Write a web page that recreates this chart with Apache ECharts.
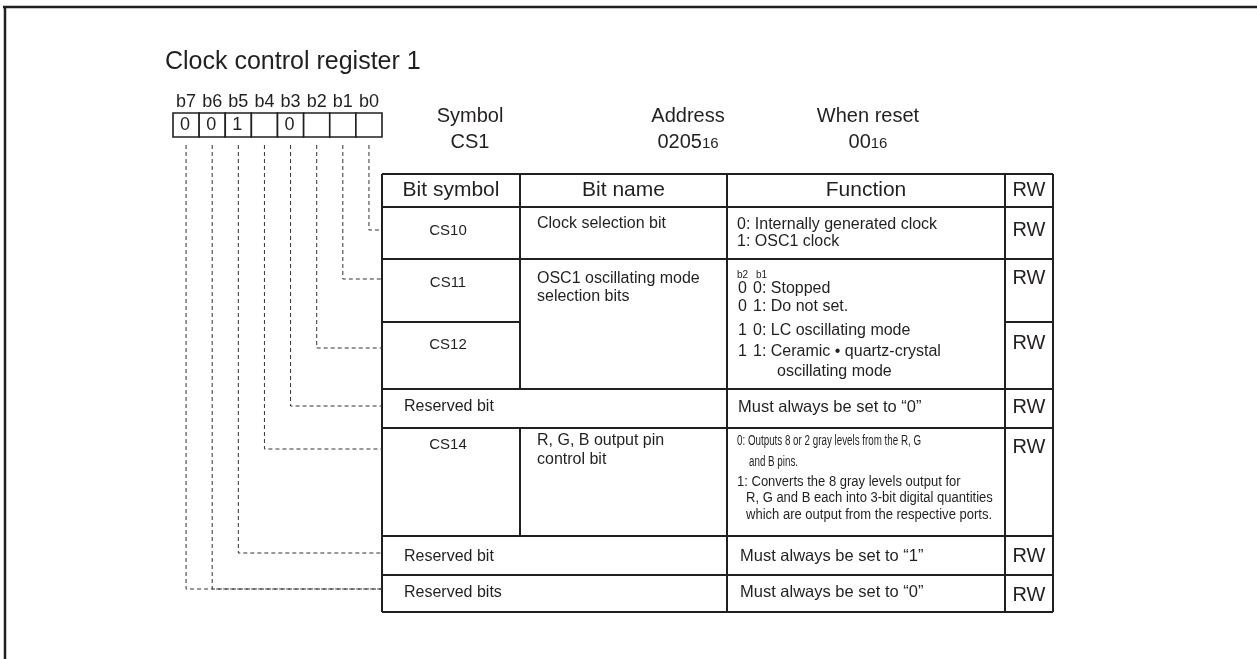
<!DOCTYPE html>
<html><head><meta charset="utf-8">
<script src="https://cdn.jsdelivr.net/npm/echarts@6/dist/echarts.min.js"></script>
<style>html,body{margin:0;padding:0;background:#fff}#c{width:1257px;height:659px}</style>
</head><body><div id="c"></div>
<script>
// ---------------- content ----------------
const titleText = 'Clock control register 1';
const bitLabels = ['b7','b6','b5','b4','b3','b2','b1','b0'];
const bitValues = ['0','0','1','','0','','',''];
const infoHeads = ['Symbol','Address','When reset'];
const infoMain = ['CS1','0205','00'];
const infoSub = ['','16','16'];
const headers = ['Bit symbol','Bit name','Function','RW'];
const rowSymbols = ['CS10','CS11','CS12','Reserved bit','CS14','Reserved bit','Reserved bits'];
const rowNames = [
  ['Clock selection bit'],
  ['OSC1 oscillating mode','selection bits'],
  null, null,
  ['R, G, B output pin','control bit'],
  null, null
];
const rowFunctions = [
  ['0: Internally generated clock','1: OSC1 clock'],
  ['0: Stopped','1: Do not set.','0: LC oscillating mode','1: Ceramic \u2022 quartz-crystal','oscillating mode'],
  null,
  ['Must always be set to \u201C0\u201D'],
  ['0: Outputs 8 or 2 gray levels from the R, G','and B pins.','1: Converts the 8 gray levels output for','R, G and B each into 3-bit digital quantities','which are output from the respective ports.'],
  ['Must always be set to \u201C1\u201D'],
  ['Must always be set to \u201C0\u201D']
];
const cs11BitHeads = ['b2','b1'];
const cs11BitCodes = ['0','0','1','1',''];
const rowRW = ['RW','RW','RW','RW','RW','RW','RW'];

// ---------------- layout (positions / sizes / styles) ----------------
const FONT = '"Liberation Sans", Arial, Helvetica, sans-serif';
const INK = '#231f20';
const L = {
  colX: [382, 520, 727, 1005, 1053],
  rowY: [174, 207, 259, 322, 389, 428, 536, 575, 612],
  symSpan: [1,1,1,2,1,2,2],
  nameSpanRows: [1,2,0,0,1,0,0],
  funcSpanRows: [1,2,0,1,1,1,1],
  symY: [231, 283, 345, 407, 445, 557, 593],
  rwY: [230, 278, 343, 407, 447, 556, 595],
  nameY: [[224],[279,297],null,null,[441,460],null,null],
  funcY: [[225,242],[289,307,331,352,372],null,[407],[441,462,482,498,515],[556],[592]],
  funcX: [[737,737],[753,753,753,753,777],null,[738],[737,749,737,746,746],[740],[740]],
  funcSize: [[16,16],[16,16,16,16,16],null,[16.5],[14,14,14,14,14],[16.5],[16.5]],
  funcScale: [[1,1],[1,1,1,1,1],null,[1],[0.7,0.7,0.93,0.93,0.93],[1],[1]],
  box: {x: 173, y: 113, w: 209/8, h: 24},
  bitLabelY: 102,
  dashTopY: 145,
  connectorY: [589, 589, 553, 449, 406, 348, 279, 230],
  infoX: [470, 688, 868],
  infoY: [116, 142]
};

const measureCtx = document.createElement('canvas').getContext('2d');
function textW(str, font) { measureCtx.font = font; return measureCtx.measureText(str).width; }

function T(api, x, y, s, size, align, sx) {
  const p = api.coord([x, y]);
  const font = size + 'px ' + FONT;
  const el = {type: 'text', x: p[0], y: p[1], silent: true,
    style: {text: s, font: font, fill: INK, align: align || 'left', textAlign: align || 'left',
      verticalAlign: 'middle', textVerticalAlign: 'middle'}};
  if (sx && sx !== 1) el.scaleX = sx;
  return el;
}
function LN(api, x1, y1, x2, y2, w) {
  const a = api.coord([x1, y1]), b = api.coord([x2, y2]);
  return {type: 'line', silent: true, shape: {x1: a[0], y1: a[1], x2: b[0], y2: b[1]},
    style: {stroke: INK, lineWidth: w || 1.6, fill: null}};
}

// frame, title, info block, header row
function renderHead(params, api) {
  const ch = [];
  ch.push(LN(api, 3, 7, 1257, 7, 2.5));
  ch.push(LN(api, 5, 6, 5, 659, 2.5));
  ch.push(T(api, 165, 62, titleText, 25, 'left'));
  infoHeads.forEach((h, i) => {
    ch.push(T(api, L.infoX[i], L.infoY[0], h, 20, 'center'));
    const mf = '20px ' + FONT, sf = '15px ' + FONT;
    const wm = textW(infoMain[i], mf), ws = infoSub[i] ? textW(infoSub[i], sf) : 0;
    const x0 = L.infoX[i] - (wm + ws) / 2;
    ch.push(T(api, x0, L.infoY[1], infoMain[i], 20, 'left'));
    if (infoSub[i]) ch.push(T(api, x0 + wm, L.infoY[1] + 2, infoSub[i], 15, 'left'));
  });
  const c = L.colX, y0 = L.rowY[0], y1 = L.rowY[1];
  ch.push(LN(api, c[0], y0, c[4], y0, 2));
  ch.push(LN(api, c[0], y1, c[4], y1, 2));
  headers.forEach((h, i) => {
    ch.push(T(api, (c[i] + c[i + 1]) / 2, (y0 + y1) / 2, h, i === 3 ? 20 : 21, 'center'));
  });
  for (let i = 0; i < 5; i++) ch.push(LN(api, c[i], y0, c[i], y1, 2));
  return {type: 'group', children: ch};
}

// bit boxes and dashed connectors
function renderBit(params, api) {
  const i = api.value(0);
  const b = L.box, ch = [];
  const x = b.x + i * b.w, cx = x + b.w / 2;
  const p = api.coord([x, b.y]);
  ch.push({type: 'rect', silent: true, shape: {x: p[0], y: p[1], width: b.w, height: b.h},
    style: {fill: '#fff', stroke: INK, lineWidth: 1.6}});
  ch.push(T(api, cx, L.bitLabelY, bitLabels[i], 18, 'center'));
  if (bitValues[i]) ch.push(T(api, cx - 1, b.y + b.h / 2 + 0.5, bitValues[i], 18, 'center'));
  const cy = L.connectorY[i];
  const pts = [api.coord([cx, L.dashTopY]), api.coord([cx, cy]), api.coord([L.colX[0], cy])];
  ch.push({type: 'polyline', silent: true, shape: {points: pts},
    style: {stroke: '#333', lineWidth: 1, lineDash: [4, 3], fill: null}});
  return {type: 'group', children: ch};
}

// table rows
function renderRow(params, api) {
  const r = api.value(0);
  const c = L.colX, ch = [];
  const yTop = L.rowY[r + 1], yBot = L.rowY[r + 2];
  const symEnd = L.symSpan[r] === 2 ? c[2] : c[1];
  ch.push(LN(api, c[0], yBot, symEnd, yBot, 2));
  ch.push(LN(api, c[3], yBot, c[4], yBot, 2));
  if (L.symSpan[r] === 1) {
    const nSpan = L.nameSpanRows[r];
    if (nSpan > 0) {
      const bot = L.rowY[r + 1 + nSpan];
      ch.push(LN(api, c[1], bot, c[2], bot, 2));
    }
  }
  const fSpan = L.funcSpanRows[r];
  if (fSpan > 0) {
    const bot = L.rowY[r + 1 + fSpan];
    ch.push(LN(api, c[2], bot, c[3], bot, 2));
  }
  ch.push(LN(api, c[0], yTop, c[0], yBot, 2));
  if (L.symSpan[r] === 1) ch.push(LN(api, c[1], yTop, c[1], yBot, 2));
  ch.push(LN(api, c[2], yTop, c[2], yBot, 2));
  ch.push(LN(api, c[3], yTop, c[3], yBot, 2));
  ch.push(LN(api, c[4], yTop, c[4], yBot, 2));
  if (L.symSpan[r] === 2) ch.push(T(api, c[0] + 22, L.symY[r], rowSymbols[r], 16, 'left'));
  else ch.push(T(api, (c[0] + c[1]) / 2 - 3, L.symY[r], rowSymbols[r], 15, 'center'));
  if (rowNames[r]) rowNames[r].forEach((s, k) => ch.push(T(api, 537, L.nameY[r][k], s, 16, 'left')));
  if (rowFunctions[r]) {
    if (r === 1) {
      ch.push(T(api, 737, 275, cs11BitHeads[0], 10, 'left'));
      ch.push(T(api, 756, 275, cs11BitHeads[1], 10, 'left'));
      cs11BitCodes.forEach((s, k) => { if (s) ch.push(T(api, 738, L.funcY[r][k], s, 16, 'left')); });
    }
    rowFunctions[r].forEach((s, k) => ch.push(T(api, L.funcX[r][k], L.funcY[r][k], s,
      L.funcSize[r][k], 'left', L.funcScale[r][k])));
  }
  ch.push(T(api, (c[3] + c[4]) / 2, L.rwY[r], rowRW[r], 20, 'center'));
  return {type: 'group', children: ch};
}

const chart = echarts.init(document.getElementById('c'));
chart.setOption({
  animation: false,
  backgroundColor: '#fff',
  grid: {left: 0, right: 0, top: 0, bottom: 0},
  xAxis: {type: 'value', min: 0, max: 1257, show: false},
  yAxis: {type: 'value', min: 0, max: 659, inverse: true, show: false},
  series: [
    {type: 'custom', renderItem: renderHead, data: [[0]], silent: true, clip: false},
    {type: 'custom', renderItem: renderRow, data: rowSymbols.map((_, i) => [i]), silent: true, clip: false},
    {type: 'custom', renderItem: renderBit, data: bitLabels.map((_, i) => [i]), silent: true, clip: false}
  ]
});
</script></body></html>
